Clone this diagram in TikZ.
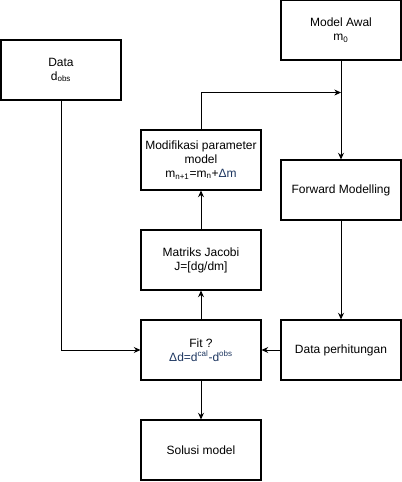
\documentclass[tikz,border=0pt]{standalone}
\usepackage{fontspec}
\setmainfont{Liberation Sans}
\usepackage{xcolor}
\usetikzlibrary{positioning,arrows.meta}
\definecolor{navy}{RGB}{29,54,96}

\tikzset{box/.style={draw, thick, minimum width=90pt, minimum height=45pt, align=center,
    font=\fontsize{9}{10.5}\selectfont, inner sep=1pt}}

\begin{document}
\begin{tikzpicture}[>={Stealth[length=5pt,width=4.5pt]}, semithick, node distance=75pt, on grid]
        \useasboundingbox (-150.75pt,-99pt) rectangle (150.75pt,262.5pt);
        \node[box] (fit) {Fit ?\\\textcolor{navy}{Δd=d\textsuperscript{cal}-d\textsuperscript{obs}}};
        \node[box, above=67.5pt of fit] (jacobi) {Matriks Jacobi\\J=[dg/dm]};
        \node[box, above=of jacobi] (modif) {Modifikasi parameter\\model\\m\textsubscript{n+1}=m\textsubscript{n}+\textcolor{navy}{Δm}};
        \node[box, below=of fit] (solusi) {Solusi model};
        \node[box, right=105pt of fit] (hitung) {Data perhitungan};
        \node[box, above=120pt of hitung] (forward) {Forward Modelling};
        \node[box, above=120pt of forward] (awal) {Model Awal\\m\textsubscript{0}};
        \node[box, above left=210pt and 105pt of fit] (data) {Data\\d\textsubscript{obs}};
        \coordinate[below=24pt of awal.south] (join);
        \path[->]
                (awal) edge (forward)
                (forward) edge (hitung)
                (hitung) edge (fit)
                (fit) edge (jacobi)
                (jacobi) edge (modif)
                (fit) edge (solusi);
        \draw[->] (data) |- (fit);
        \draw[->] (modif) |- (join);
    \end{tikzpicture}
\end{document}
